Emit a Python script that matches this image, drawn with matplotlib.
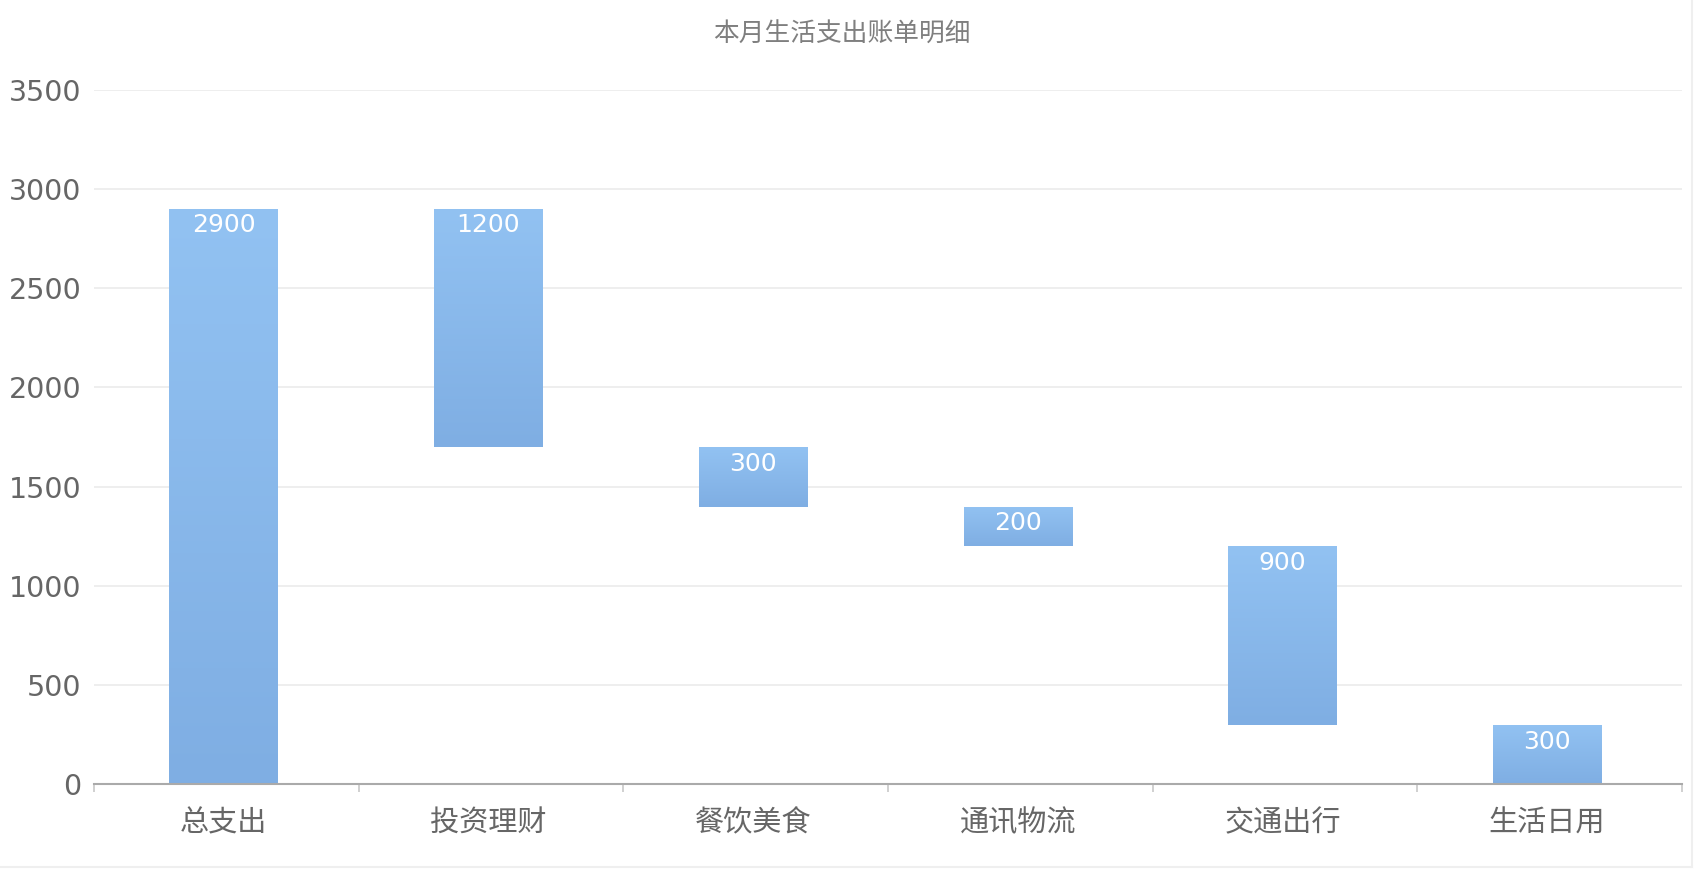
import numpy as np
import matplotlib
matplotlib.use('Agg')
import matplotlib.pyplot as plt
from matplotlib.colors import LinearSegmentedColormap
from matplotlib.lines import Line2D

plt.rcParams['font.family'] = ['DejaVu Sans', 'Noto Sans CJK SC']

################### data ##################################################

title = '本月生活支出账单明细'
cats = ['总支出', '投资理财', '餐饮美食', '通讯物流', '交通出行', '生活日用']
total = 2900
items = [1200, 300, 200, 900, 300]
yticks = [0, 500, 1000, 1500, 2000, 2500, 3000, 3500]

################### waterfall geometry #####################################

values = [total] + items
tops = [total]
bottoms = [0]
run = total
for v in items:
    tops.append(run)
    run = run - v
    bottoms.append(run)

################### plot ###################################################

fig = plt.figure(figsize=(16.94, 8.86), dpi=100)
ax = fig.add_axes([0.0555, 0.1146, 0.9375, 0.7842])

cmap = LinearSegmentedColormap.from_list('bar', ['#7FAEE3', '#92C2F2'])
grad = np.linspace(0, 1, 256).reshape(-1, 1)
bw = 0.41

x = np.arange(len(cats)) - 0.01
bars = ax.bar(x, np.array(tops) - np.array(bottoms), bottom=bottoms,
              width=bw, color='none', edgecolor='none', zorder=2)
for b, xi, lo, hi, v in zip(bars, x, bottoms, tops, values):
    im = ax.imshow(grad, extent=[xi - bw/2, xi + bw/2, lo, hi], origin='lower',
                   cmap=cmap, aspect='auto', zorder=2)
    im.set_clip_path(b)
    ax.annotate(str(v), (xi, hi), xytext=(0, -12), textcoords='offset points',
                ha='center', va='center', color='white', fontsize=18,
                zorder=3)

ax.set_xlim(-0.5, len(cats) - 0.5)
ax.set_ylim(0, 3500)

ax.set_yticks(yticks)
ax.set_yticklabels([str(t) for t in yticks])
ax.tick_params(axis='y', length=0, pad=9, labelsize=20.5, labelcolor='#666666')
ax.grid(axis='y', color='#EBEBEB', linewidth=1.2, zorder=0)
ax.set_axisbelow(True)

ax.set_xticks(np.arange(len(cats) + 1) - 0.5)
ax.set_xticklabels([])
ax.set_xticks(x, minor=True)
ax.set_xticklabels(cats, minor=True)
ax.tick_params(axis='x', which='major', length=6, width=1.2, color='#C8C8C8')
ax.tick_params(axis='x', which='minor', length=0, pad=18, labelsize=21,
               labelcolor='#666666')

for s in ['top', 'right', 'left']:
    ax.spines[s].set_visible(False)
ax.spines['bottom'].set_color('#AAAAAA')
ax.spines['bottom'].set_linewidth(1.5)

fig.text(0.497, 0.961, title, ha='center', va='center', fontsize=18.5,
         color='#7F7F7F')

# faint frame of the chart container
fig.add_artist(Line2D([0, 0.9987], [0.022, 0.022], color='#EFEFEF', lw=1.5))
fig.add_artist(Line2D([0.9987, 0.9987], [0.022, 1], color='#EFEFEF', lw=1.5))

plt.savefig('out.png', dpi=100)
plt.close()
